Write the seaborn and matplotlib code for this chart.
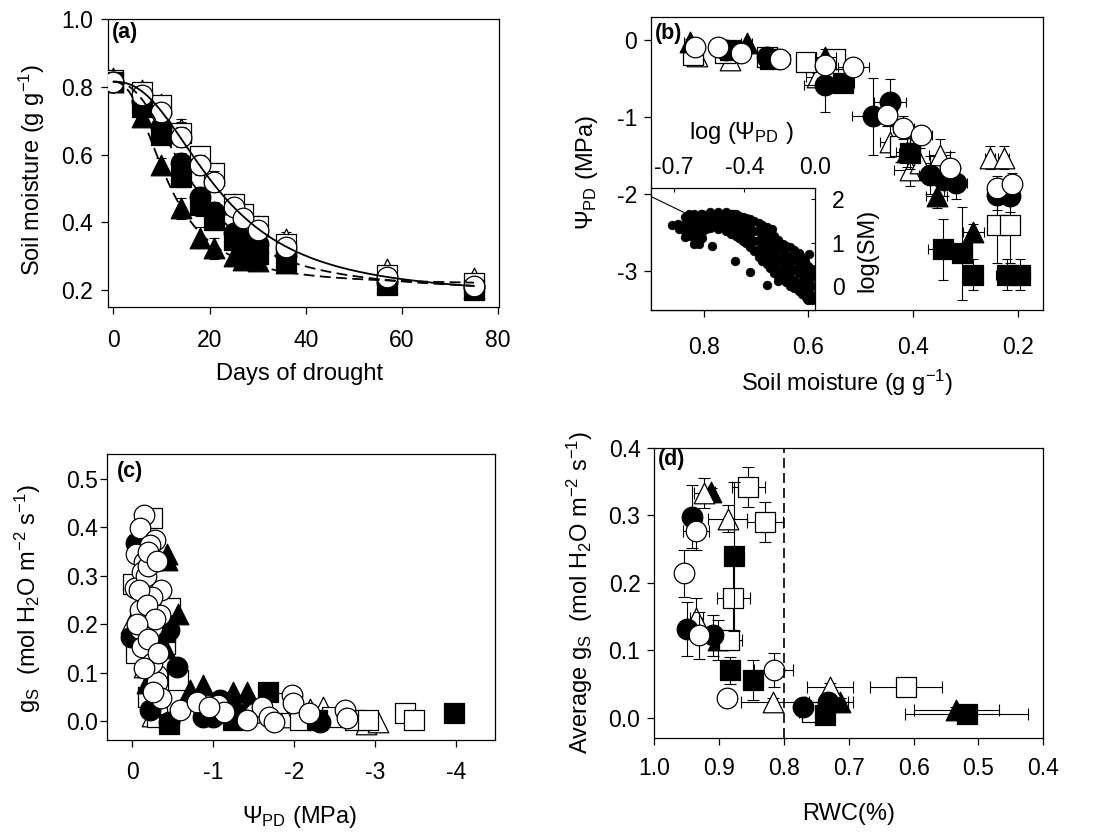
import numpy as np
import matplotlib
matplotlib.use("Agg")
import matplotlib.pyplot as plt
import seaborn as sns

# ---------------- panel (a): soil moisture vs days ----------------
days = [0, 6, 10, 14, 18, 21, 25, 27, 30, 36, 57, 75]
a_open_circle = [0.815, 0.776, 0.726, 0.651, 0.569, 0.520, 0.446, 0.412, 0.377, 0.328, 0.239, 0.212]
a_open_square = [0.820, 0.785, 0.745, 0.665, 0.595, 0.545, 0.455, 0.425, 0.390, 0.335, 0.245, 0.220]
a_open_triangle = [0.825, 0.790, 0.750, 0.675, 0.590, 0.540, 0.455, 0.430, 0.390, 0.352, 0.262, 0.235]
a_filled_circle = [0.815, 0.755, 0.680, 0.574, 0.475, 0.430, 0.367, 0.350, 0.335, 0.300, 0.225, 0.210]
a_filled_square = [0.815, 0.740, 0.657, 0.535, 0.450, 0.407, 0.347, 0.320, 0.305, 0.285, 0.215, 0.200]
a_filled_triangle = [0.815, 0.712, 0.569, 0.441, 0.355, 0.323, 0.300, 0.290, 0.285, 0.280, 0.220, 0.205]
a_err = [0.010, 0.015, 0.020, 0.030, 0.030, 0.030, 0.025, 0.020, 0.020, 0.020, 0.010, 0.010]

# ---------------- panel (b): leaf water potential vs soil moisture ----------------
b_open_circle_x = [0.817, 0.773, 0.728, 0.655, 0.568, 0.514, 0.450, 0.419, 0.384, 0.329, 0.240, 0.210]
b_open_circle_y = [-0.09, -0.09, -0.17, -0.25, -0.32, -0.35, -0.97, -1.14, -1.23, -1.66, -1.92, -1.87]
b_open_circle_xe = [0.01, 0.01, 0.01, 0.02, 0.02, 0.03, 0.02, 0.02, 0.02, 0.015, 0.01, 0.01]
b_open_circle_ye = [0.03, 0.03, 0.03, 0.03, 0.05, 0.05, 0.15, 0.15, 0.10, 0.20, 0.15, 0.15]

b_filled_circle_x = [0.757, 0.680, 0.568, 0.476, 0.444, 0.368, 0.340, 0.317, 0.240, 0.215]
b_filled_circle_y = [-0.13, -0.22, -0.58, -0.99, -0.80, -1.75, -1.82, -1.86, -2.01, -2.03]
b_filled_circle_xe = [0.01, 0.01, 0.04, 0.04, 0.03, 0.02, 0.02, 0.02, 0.01, 0.01]
b_filled_circle_ye = [0.03, 0.03, 0.35, 0.50, 0.30, 0.25, 0.20, 0.20, 0.20, 0.20]

b_filled_triangle_x = [0.827, 0.718, 0.568, 0.412, 0.355, 0.285]
b_filled_triangle_y = [-0.02, -0.04, -0.22, -1.45, -2.03, -2.49]
b_filled_triangle_xe = [0.01, 0.01, 0.02, 0.02, 0.02, 0.02]
b_filled_triangle_ye = [0.03, 0.03, 0.10, 0.20, 0.15, 0.10]

b_filled_square_x = [0.750, 0.674, 0.533, 0.406, 0.342, 0.307, 0.285, 0.221, 0.196]
b_filled_square_y = [-0.13, -0.24, -0.56, -1.47, -2.72, -2.77, -3.05, -3.05, -3.05]
b_filled_square_xe = [0.01, 0.01, 0.02, 0.02, 0.03, 0.02, 0.01, 0.02, 0.02]
b_filled_square_ye = [0.03, 0.03, 0.10, 0.20, 0.40, 0.60, 0.20, 0.20, 0.20]

b_open_square_x = [0.820, 0.760, 0.680, 0.604, 0.550, 0.425, 0.240, 0.215]
b_open_square_y = [-0.20, -0.17, -0.22, -0.28, -0.24, -1.38, -2.40, -2.40]
b_open_square_xe = [0.01, 0.01, 0.01, 0.02, 0.02, 0.02, 0.01, 0.01]
b_open_square_ye = [0.03, 0.03, 0.03, 0.05, 0.05, 0.20, 0.50, 0.50]

b_open_triangle_x = [0.814, 0.750, 0.584, 0.444, 0.406, 0.387, 0.349, 0.253, 0.227]
b_open_triangle_y = [-0.21, -0.26, -0.48, -1.32, -1.69, -1.60, -1.49, -1.53, -1.53]
b_open_triangle_xe = [0.01, 0.01, 0.02, 0.02, 0.03, 0.02, 0.02, 0.01, 0.01]
b_open_triangle_ye = [0.03, 0.03, 0.05, 0.20, 0.20, 0.20, 0.20, 0.15, 0.15]

# inset of (b): log(SM) vs log(Psi_PD) point cloud
inset_x = [-0.811, -0.775, -0.771,
           -0.738, -0.738, -0.738, -0.738,
           -0.707, -0.707, -0.707, -0.707,
           -0.684, -0.684, -0.684, -0.684, -0.684, -0.684,
           -0.662, -0.662, -0.662, -0.662, -0.662,
           -0.639, -0.639, -0.639, -0.639, -0.639,
           -0.616, -0.616, -0.616,
           -0.593, -0.593, -0.593, -0.593,
           -0.571, -0.571, -0.571,
           -0.548, -0.548, -0.548, -0.548,
           -0.526, -0.526, -0.526,
           -0.502, -0.502, -0.502, -0.502,
           -0.475, -0.475, -0.475, -0.475,
           -0.448, -0.448, -0.448, -0.448,
           -0.430, -0.430, -0.430, -0.430,
           -0.411, -0.411, -0.411, -0.411,
           -0.390, -0.390, -0.390, -0.390,
           -0.366, -0.366, -0.366, -0.366,
           -0.344, -0.344, -0.344, -0.344,
           -0.320, -0.320, -0.320, -0.320, -0.320,
           -0.298, -0.298, -0.298, -0.298, -0.298,
           -0.275, -0.275, -0.275, -0.275, -0.275,
           -0.253, -0.253, -0.253, -0.253, -0.253,
           -0.230, -0.230, -0.230, -0.230, -0.230,
           -0.208, -0.208, -0.208, -0.208, -0.208,
           -0.184, -0.184, -0.184, -0.184, -0.184,
           -0.162, -0.162, -0.162, -0.162, -0.162,
           -0.139, -0.139, -0.139, -0.139, -0.139,
           -0.117, -0.117, -0.117, -0.117, -0.117,
           -0.093, -0.093, -0.093, -0.093, -0.093,
           -0.075, -0.075, -0.075, -0.075, -0.075,
           -0.057, -0.057, -0.057, -0.057, -0.057,
           -0.039, -0.039, -0.039, -0.039, -0.039,
           -0.019, -0.019, -0.019, -0.019, -0.019,
           -0.451, -0.371, -0.270, -0.244, -0.106, -0.033, -0.211,
           -0.656, -0.584, -0.712, -0.648, -0.466, -0.046, -0.029]
inset_y = [1.41, 1.43, 1.31,
           1.58, 1.43, 1.27, 1.12,
           1.62, 1.46, 1.31, 1.16,
           1.66, 1.52, 1.38, 1.24, 1.10, 0.96,
           1.60, 1.44, 1.29, 1.13, 0.98,
           1.66, 1.52, 1.38, 1.24, 1.10,
           1.62, 1.46, 1.31,
           1.70, 1.57, 1.44, 1.33,
           1.63, 1.50, 1.38,
           1.70, 1.57, 1.44, 1.31,
           1.63, 1.50, 1.36,
           1.70, 1.57, 1.43, 1.27,
           1.67, 1.54, 1.39, 1.21,
           1.66, 1.50, 1.33, 1.16,
           1.62, 1.46, 1.29, 1.10,
           1.58, 1.43, 1.23, 1.04,
           1.56, 1.39, 1.19, 0.98,
           1.54, 1.35, 1.12, 0.89,
           1.50, 1.27, 1.04, 0.81,
           1.46, 1.27, 1.06, 0.85, 0.66,
           1.41, 1.20, 0.98, 0.77, 0.58,
           1.35, 1.14, 0.93, 0.72, 0.50,
           1.26, 1.04, 0.83, 0.62, 0.41,
           1.16, 0.95, 0.73, 0.52, 0.31,
           1.06, 0.85, 0.63, 0.42, 0.23,
           0.96, 0.77, 0.58, 0.39, 0.19,
           0.93, 0.72, 0.50, 0.29, 0.10,
           0.89, 0.67, 0.44, 0.21, 0.00,
           0.83, 0.61, 0.38, 0.15, -0.05,
           0.77, 0.54, 0.31, 0.08, -0.12,
           0.67, 0.46, 0.26, 0.04, -0.18,
           0.58, 0.39, 0.19, -0.02, -0.23,
           0.46, 0.27, 0.08, -0.12, -0.31,
           0.40, 0.20, 0.00, -0.20, -0.32,
           0.58, 0.33, 0.02, 1.31, 0.77, 0.73, 0.12,
           0.96, 0.93, 1.66, 1.66, 1.66, -0.30, -0.28]
inset_xticks = [-0.8, -0.4, 0.0]
inset_xticklabels = ["-0.7", "-0.4", "0.0"]
inset_yticks = [0, 1, 2]

# ---------------- panel (c): gs vs Psi_PD ----------------
c_open_circle_x = [-0.14, -0.10, -0.28, -0.22, -0.05, -0.15, -0.12, -0.36, -0.03, -0.24, -0.09, -0.34,
                   -0.24, -0.10, -0.12, -0.30, -0.30, -0.36, -0.59, -0.80, -1.06, -1.14, -1.52, -1.61,
                   -1.69, -1.75, -1.42, -1.98, -1.99, -2.18, -2.63, -2.65, -0.17, -0.20, -0.25, -0.95,
                   -0.20, -0.30, -0.08, -0.18, -0.28, -0.06, -0.20, -0.32, -0.15, -0.26]
c_open_circle_y = [0.426, 0.398, 0.374, 0.364, 0.346, 0.329, 0.308, 0.271, 0.274, 0.257, 0.229, 0.219,
                   0.195, 0.191, 0.154, 0.095, 0.081, 0.047, 0.023, 0.040, 0.033, 0.019, 0.016, 0.030,
                   0.009, -0.001, 0.002, 0.054, 0.037, 0.016, 0.023, 0.006, 0.300, 0.320, 0.120, 0.030,
                   0.350, 0.330, 0.270, 0.240, 0.210, 0.200, 0.170, 0.140, 0.110, 0.060]
c_filled_circle_x = [0.01, -0.45, -0.55, -0.22, -0.45, -0.87, -1.00, -1.09, -2.32, -0.05, -0.40]
c_filled_circle_y = [0.173, 0.188, 0.112, 0.023, -0.001, 0.009, 0.009, 0.043, -0.001, 0.367, 0.200]
c_filled_triangle_x = [-0.425, -0.43, -0.57, -0.18, -0.71, -0.87, -1.24, -1.42, -1.25, -1.45, -0.40]
c_filled_triangle_y = [0.346, 0.333, 0.222, 0.078, 0.064, 0.074, 0.061, 0.061, 0.045, 0.045, 0.150]
c_filled_square_x = [-1.68, -3.98, -0.40, -1.25, -2.28, -0.45]
c_filled_square_y = [0.061, 0.016, 0.185, 0.002, 0.002, -0.005]
c_open_square_x = [-0.24, -0.01, -0.47, -0.05, -0.57, -0.30, -1.34, -1.79, -2.07, -2.47, -2.75, -2.91,
                   -3.37, -3.49, -0.20, -0.40]
c_open_square_y = [0.419, 0.284, 0.233, 0.140, 0.085, 0.009, 0.012, 0.037, 0.002, 0.009, 0.002, 0.002,
                   0.016, 0.002, 0.050, 0.160]
c_open_triangle_x = [0.01, -0.14, -1.46, -1.89, -2.20, -2.36, -2.885, -3.04, -0.25, -0.15]
c_open_triangle_y = [0.202, 0.112, 0.026, 0.009, 0.026, 0.030, -0.005, -0.001, 0.010, 0.250]

# ---------------- panel (d): average gs vs RWC ----------------
d_open_triangle_x = [0.924, 0.887, 0.935, 0.817, 0.729]
d_open_triangle_y = [0.333, 0.295, 0.147, 0.024, 0.046]
d_open_triangle_xe = [0.015, 0.030, 0.010, 0.050, 0.035]
d_open_triangle_ye = [0.022, 0.020, 0.030, 0.005, 0.005]
d_filled_circle_x = [0.942, 0.950, 0.909, 0.770, 0.732]
d_filled_circle_y = [0.298, 0.132, 0.122, 0.016, 0.024]
d_filled_circle_xe = [0.010, 0.010, 0.010, 0.010, 0.030]
d_filled_circle_ye = [0.047, 0.040, 0.030, 0.005, 0.005]
d_open_circle_x = [0.935, 0.954, 0.931, 0.888, 0.816]
d_open_circle_y = [0.276, 0.214, 0.122, 0.029, 0.071]
d_open_circle_xe = [0.020, 0.005, 0.010, 0.005, 0.030]
d_open_circle_ye = [0.028, 0.035, 0.035, 0.005, 0.025]
d_open_square_x = [0.855, 0.829, 0.878, 0.885, 0.612, 0.757]
d_open_square_y = [0.342, 0.290, 0.177, 0.115, 0.046, 0.009]
d_open_square_xe = [0.025, 0.028, 0.025, 0.020, 0.055, 0.020]
d_open_square_ye = [0.030, 0.030, 0.050, 0.005, 0.005, 0.005]
d_filled_square_x = [0.877, 0.883, 0.847, 0.737, 0.518]
d_filled_square_y = [0.239, 0.070, 0.056, 0.004, 0.006]
d_filled_square_xe = [0.005, 0.010, 0.010, 0.010, 0.095]
d_filled_square_ye = [0.110, 0.020, 0.030, 0.005, 0.005]
d_filled_triangle_x = [0.912, 0.901, 0.714, 0.534]
d_filled_triangle_y = [0.335, 0.115, 0.024, 0.011]
d_filled_triangle_xe = [0.005, 0.010, 0.020, 0.065]
d_filled_triangle_ye = [0.005, 0.030, 0.005, 0.005]
rwc_threshold = 0.8

# ---------------- styling ----------------
sns.set_style("ticks")
plt.rcParams.update({
    "font.family": ["Liberation Sans", "DejaVu Sans"],
    "axes.unicode_minus": False,
    "mathtext.fontset": "custom",
    "mathtext.rm": "Liberation Sans",
    "mathtext.it": "Liberation Sans:italic",
    "mathtext.bf": "Liberation Sans:bold",
    "axes.edgecolor": "black",
    "xtick.color": "black",
    "ytick.color": "black",
    "axes.labelcolor": "black",
    "text.color": "black",
})

STYLES = {
    "open_circle": ("o", "white"),
    "filled_circle": ("o", "black"),
    "open_square": ("s", "white"),
    "filled_square": ("s", "black"),
    "open_triangle": ("^", "white"),
    "filled_triangle": ("^", "black"),
}
MS = 220
TICK_FS = 16.5
LABEL_FS = 17


def draw_series(ax, x, y, key, z, xerr=None, yerr=None, s=MS, capsize=3.6):
    marker, face = STYLES[key]
    if xerr is not None or yerr is not None:
        ax.errorbar(x, y, xerr=xerr, yerr=yerr, fmt="none", ecolor="black",
                    elinewidth=0.8, capsize=capsize, capthick=0.8, zorder=z)
    sns.scatterplot(x=x, y=y, marker=marker, s=s, color=face, edgecolor="black",
                    linewidth=0.9, ax=ax, zorder=z + 0.5, legend=False)


def style_axes(ax, xpad, ypad):
    for sp in ax.spines.values():
        sp.set_visible(True)
        sp.set_linewidth(0.9)
        sp.set_color("black")
    ax.tick_params(which="major", direction="out", length=5, width=0.9,
                   labelsize=TICK_FS, top=False, right=False)
    ax.tick_params(axis="x", pad=xpad)
    ax.tick_params(axis="y", pad=ypad)


def set_labels(ax, xlabel, ylabel, xc, yc):
    ax.set_xlabel(xlabel, fontsize=LABEL_FS)
    ax.set_ylabel(ylabel, fontsize=LABEL_FS)
    ax.xaxis.set_label_coords(*xc)
    ax.yaxis.set_label_coords(*yc)
    ax.xaxis.label.set_va("center")
    ax.yaxis.label.set_va("center")


def panel_tag(ax, text, x, y):
    ax.text(x, y, text, transform=ax.transAxes, fontsize=15.5, fontweight="bold",
            ha="left", va="top")


def decay_fit(t, y):
    """Least-squares fit of y = c + (y0 - c) / (1 + (t/t50)^p)."""
    t = np.asarray(t, float)
    y = np.asarray(y, float)
    y0 = y[0]
    best = None
    for t50 in np.linspace(5, 50, 181):
        for p in np.linspace(0.8, 4.0, 81):
            e = 1.0 / (1.0 + (t / t50) ** p)
            w = 1 - e
            c = np.sum((y - y0 * e) * w) / np.sum(w * w)
            r = float(np.sum((c + (y0 - c) * e - y) ** 2))
            if best is None or r < best[0]:
                best = (r, y0, c, t50, p)
    return best[1:]


W, H = 1097, 836
fig = plt.figure(figsize=(W / 100, H / 100), dpi=100)


def rect(l, r, t, b):
    return [l / W, 1 - b / H, (r - l) / W, (b - t) / H]


# ---------------- (a) ----------------
ax_a = fig.add_axes(rect(108.3, 499, 19, 307))
a_series = [("open_triangle", a_open_triangle), ("open_square", a_open_square),
            ("filled_square", a_filled_square), ("filled_triangle", a_filled_triangle),
            ("filled_circle", a_filled_circle), ("open_circle", a_open_circle)]
for i, (key, vals) in enumerate(a_series):
    draw_series(ax_a, days, vals, key, z=3 + i, yerr=a_err)
t_grid = np.linspace(0, 75, 300)
for vals, ls in [(a_open_circle, "-"), (a_filled_circle, (0, (6, 3))),
                 (a_filled_triangle, (0, (6, 3)))]:
    y0, c, t50, p = decay_fit(days, vals)
    ax_a.plot(t_grid, c + (y0 - c) / (1.0 + (t_grid / t50) ** p), color="black",
              lw=1.3, ls=ls, zorder=20)
ax_a.set_xlim(-1.05, 80.2)
ax_a.set_ylim(0.15, 1.0)
ax_a.set_xticks([0, 20, 40, 60, 80])
ax_a.set_yticks([0.2, 0.4, 0.6, 0.8, 1.0])
ax_a.set_yticklabels(["0.2", "0.4", "0.6", "0.8", "1.0"])
style_axes(ax_a, 10.5, 5.8)
set_labels(ax_a, "Days of drought", "Soil moisture (g g$^{-1}$)", (0.49, -0.232), (-0.195, 0.476))
panel_tag(ax_a, "(a)", 0.008, 0.99)

# ---------------- (b) ----------------
ax_b = fig.add_axes(rect(651, 1043.3, 17, 310))
b_series = [
    ("open_triangle", b_open_triangle_x, b_open_triangle_y, b_open_triangle_xe, b_open_triangle_ye),
    ("open_square", b_open_square_x, b_open_square_y, b_open_square_xe, b_open_square_ye),
    ("filled_square", b_filled_square_x, b_filled_square_y, b_filled_square_xe, b_filled_square_ye),
    ("filled_triangle", b_filled_triangle_x, b_filled_triangle_y, b_filled_triangle_xe, b_filled_triangle_ye),
    ("filled_circle", b_filled_circle_x, b_filled_circle_y, b_filled_circle_xe, b_filled_circle_ye),
    ("open_circle", b_open_circle_x, b_open_circle_y, b_open_circle_xe, b_open_circle_ye),
]
for i, (key, x, y, xe, ye) in enumerate(b_series):
    draw_series(ax_b, x, y, key, z=3 + 2 * i, xerr=xe, yerr=ye)
ax_b.set_xlim(0.901, 0.151)
ax_b.set_ylim(-3.506, 0.3)
ax_b.set_xticks([0.8, 0.6, 0.4, 0.2])
ax_b.set_yticks([0, -1, -2, -3])
style_axes(ax_b, 13.4, 5.0)
set_labels(ax_b, "Soil moisture (g g$^{-1}$)", "Ψ$_{\\mathrm{PD}}$ (MPa)", (0.5, -0.249), (-0.164, 0.471))
panel_tag(ax_b, "(b)", 0.011, 0.98)

# inset
ax_in = fig.add_axes(rect(651, 815, 188.3, 310))
ax_in.set_zorder(ax_b.get_zorder() + 1)
ax_in.set_facecolor("white")
ax_in.set_xlim(-0.93, 0.0)
ax_in.set_ylim(-0.55, 2.25)
sns.regplot(x=np.array(inset_x), y=np.array(inset_y), ax=ax_in, scatter=False, ci=None,
            truncate=False, line_kws=dict(color="black", lw=0.8, zorder=1))
sns.scatterplot(x=inset_x, y=inset_y, ax=ax_in, s=40, color="black", edgecolor="black",
                linewidth=0.4, zorder=2, legend=False)
ax_in.set_xlim(-0.93, 0.0)
ax_in.set_ylim(-0.55, 2.25)
for sp in ax_in.spines.values():
    sp.set_visible(True)
    sp.set_linewidth(0.9)
    sp.set_color("black")
ax_in.xaxis.tick_top()
ax_in.yaxis.tick_right()
ax_in.set_xticks(inset_xticks)
ax_in.set_xticklabels(inset_xticklabels)
ax_in.set_yticks(inset_yticks)
ax_in.tick_params(direction="in", length=3, width=0.8, labelsize=TICK_FS,
                  top=True, bottom=False, left=False, right=True)
ax_in.tick_params(axis="x", pad=7)
ax_in.tick_params(axis="y", pad=12)
ax_in.xaxis.set_label_position("top")
ax_in.yaxis.set_label_position("right")
ax_in.set_xlabel("log (Ψ$_{\\mathrm{PD}}$ )", fontsize=LABEL_FS)
ax_in.set_ylabel("log(SM)", fontsize=LABEL_FS, rotation=90)
ax_in.xaxis.set_label_coords(0.553, 1.452)
ax_in.yaxis.set_label_coords(1.319, 0.493)
ax_in.xaxis.label.set_va("center")
ax_in.yaxis.label.set_va("center")

# ---------------- (c) ----------------
ax_c = fig.add_axes(rect(107.3, 495, 454.3, 740))
c_series = [("open_triangle", c_open_triangle_x, c_open_triangle_y),
            ("open_square", c_open_square_x, c_open_square_y),
            ("filled_square", c_filled_square_x, c_filled_square_y),
            ("filled_triangle", c_filled_triangle_x, c_filled_triangle_y),
            ("filled_circle", c_filled_circle_x, c_filled_circle_y),
            ("open_circle", c_open_circle_x, c_open_circle_y)]
for i, (key, x, y) in enumerate(c_series):
    draw_series(ax_c, x, y, key, z=3 + i)
ax_c.set_xlim(0.309, -4.486)
ax_c.set_ylim(-0.039, 0.551)
ax_c.set_xticks([0, -1, -2, -3, -4])
ax_c.set_yticks([0.0, 0.1, 0.2, 0.3, 0.4, 0.5])
ax_c.set_yticklabels(["0.0", "0.1", "0.2", "0.3", "0.4", "0.5"])
style_axes(ax_c, 9.8, 2.0)
set_labels(ax_c, "Ψ$_{\\mathrm{PD}}$ (MPa)",
           "g$_{\\mathrm{S}}$  (mol H$_{2}$O m$^{-2}$ s$^{-1}$)", (0.497, -0.268), (-0.204, 0.494))
panel_tag(ax_c, "(c)", 0.024, 0.977)

# ---------------- (d) ----------------
ax_d = fig.add_axes(rect(654.3, 1043.3, 447.7, 738.3))
d_series = [
    ("filled_triangle", d_filled_triangle_x, d_filled_triangle_y, d_filled_triangle_xe, d_filled_triangle_ye),
    ("open_triangle", d_open_triangle_x, d_open_triangle_y, d_open_triangle_xe, d_open_triangle_ye),
    ("open_square", d_open_square_x, d_open_square_y, d_open_square_xe, d_open_square_ye),
    ("filled_square", d_filled_square_x, d_filled_square_y, d_filled_square_xe, d_filled_square_ye),
    ("filled_circle", d_filled_circle_x, d_filled_circle_y, d_filled_circle_xe, d_filled_circle_ye),
    ("open_circle", d_open_circle_x, d_open_circle_y, d_open_circle_xe, d_open_circle_ye),
]
for i, (key, x, y, xe, ye) in enumerate(d_series):
    draw_series(ax_d, x, y, key, z=3 + 2 * i, xerr=xe, yerr=ye, capsize=4.0)
ax_d.axvline(rwc_threshold, color="black", lw=1.2, ls=(0, (6, 3)), zorder=30)
ax_d.set_xlim(1.0, 0.4)
ax_d.set_ylim(-0.0305, 0.4)
ax_d.set_xticks([1.0, 0.9, 0.8, 0.7, 0.6, 0.5, 0.4])
ax_d.set_xticklabels(["1.0", "0.9", "0.8", "0.7", "0.6", "0.5", "0.4"])
ax_d.set_yticks([0.0, 0.1, 0.2, 0.3, 0.4])
ax_d.set_yticklabels(["0.0", "0.1", "0.2", "0.3", "0.4"])
style_axes(ax_d, 8.8, 5.0)
set_labels(ax_d, "RWC(%)", "Average g$_{\\mathrm{S}}$  (mol H$_{2}$O m$^{-2}$ s$^{-1}$)",
           (0.5, -0.26), (-0.191, 0.504))
panel_tag(ax_d, "(d)", 0.010, 0.995)

fig.savefig("out.png", dpi=100)
